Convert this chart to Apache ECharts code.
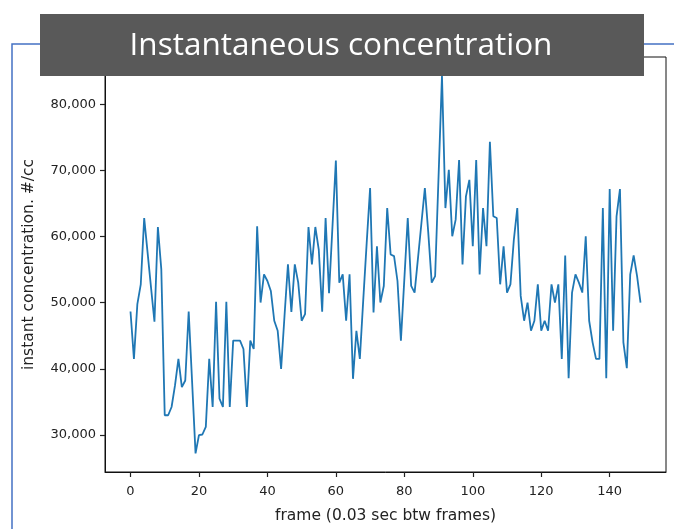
<!DOCTYPE html>
<html>
<head>
<meta charset="utf-8">
<script src="https://cdn.jsdelivr.net/npm/echarts@6/dist/echarts.min.js"></script>
<style>
  html, body { margin: 0; padding: 0; background: #fff; }
  #chart { width: 674px; height: 529px; }
</style>
</head>
<body>
<div id="chart"></div>
<script>
const titleText = 'Instantaneous concentration';
const xName = 'frame (0.03 sec btw frames)';
const yName = 'instant concentration. #/cc';

const xTicks = [0, 20, 40, 60, 80, 100, 120, 140];
const yTicks = [30000, 40000, 50000, 60000, 70000, 80000];

// concentration per frame (frames 0..149)
const concentration = [
  48670, 41500, 49770, 52780, 62800, 57540, 52280, 47120, 61450, 55030,
  32980, 32980, 34230, 37490, 41500, 37240, 38240, 48670, 38000, 27210,
  29970, 30070, 31220, 41500, 34230, 50120, 35490, 34230, 50120, 34230,
  44260, 44260, 44260, 43000, 34230, 44260, 43000, 61550, 50020, 54280,
  53280, 51780, 47270, 45760, 40000, 48020, 55790, 48620, 55790, 53030,
  47270, 48270, 61450, 55790, 61450, 58040, 48620, 62800, 51430, 61450,
  71480, 53030, 54280, 47270, 54280, 38490, 45760, 41500, 50420, 59000,
  67320, 48520, 58540, 50020, 52530, 64310, 57290, 57040, 53280, 44260,
  53530, 62800, 52530, 51530, 56790, 62050, 67320, 60550, 53030, 54030,
  69070, 84300, 64310, 70080, 60050, 62560, 71580, 55790, 66070, 68570,
  58540, 71580, 54280, 64310, 58540, 74340, 63060, 62800, 52780, 58540,
  51530, 52780, 59550, 64310, 51030, 47270, 50020, 45760, 47270, 52780,
  45760, 47270, 45760, 52780, 50020, 52780, 41500, 57140, 38590, 51530,
  54280, 53030, 51530, 60050, 47270, 44010, 41500, 41500, 64310, 38590,
  67170, 45760, 63060, 67170, 44010, 40100, 54280, 57140, 54030, 50020
];

const points = concentration.map((v, i) => [i, v]);

const chart = echarts.init(document.getElementById('chart'));
const font = 'DejaVu Sans';

const option = {
  animation: false,
  grid: {
    left: 105,
    right: 8,
    top: 57,
    bottom: 54,
    show: true,
    borderColor: '#111',
    borderWidth: 1,
    backgroundColor: '#fff'
  },
  xAxis: {
    type: 'value',
    min: -7.45,
    max: 156.45,
    name: xName,
    nameLocation: 'middle',
    nameGap: 36,
    nameTextStyle: { color: '#222', fontFamily: font, fontSize: 15.5 },
    axisLine: { show: true, onZero: false, lineStyle: { color: '#111', width: 1 } },
    splitLine: { show: false },
    axisTick: {
      show: true,
      inside: false,
      length: 5,
      customValues: xTicks,
      lineStyle: { color: '#222', width: 1.2 }
    },
    axisLabel: {
      customValues: xTicks,
      color: '#222',
      fontFamily: font,
      fontSize: 13,
      margin: 13
    }
  },
  yAxis: {
    type: 'value',
    min: 24400,
    max: 87150,
    name: yName,
    nameLocation: 'middle',
    nameRotate: 90,
    nameGap: 68,
    nameTextStyle: { color: '#222', fontFamily: font, fontSize: 15.5 },
    axisLine: { show: true, onZero: false, lineStyle: { color: '#111', width: 1 } },
    splitLine: { show: false },
    axisTick: {
      show: true,
      inside: false,
      length: 5,
      customValues: yTicks,
      lineStyle: { color: '#222', width: 1.2 }
    },
    axisLabel: {
      customValues: yTicks,
      color: '#222',
      fontFamily: font,
      fontSize: 13,
      margin: 9,
      formatter: v => v.toLocaleString('en-US')
    }
  },
  series: [
    {
      type: 'line',
      data: points,
      showSymbol: false,
      lineStyle: { color: '#1f77b4', width: 1.8 },
      z: 3
    }
  ],
  graphic: [
    {
      type: 'polyline',
      shape: { points: [[674, 44], [12, 44], [12, 529]] },
      style: { stroke: '#4472c4', lineWidth: 1.5, fill: null },
      z: 1
    },
    {
      type: 'rect',
      shape: { x: 40, y: 14, width: 604, height: 62 },
      style: { fill: '#595959' },
      z: 100
    },
    {
      type: 'text',
      x: 341,
      y: 46,
      style: {
        text: titleText,
        fill: '#fff',
        font: '31.5px "Open Sans"',
        align: 'center',
        verticalAlign: 'middle'
      },
      z: 101
    }
  ]
};

chart.setOption(option);
</script>
</body>
</html>
